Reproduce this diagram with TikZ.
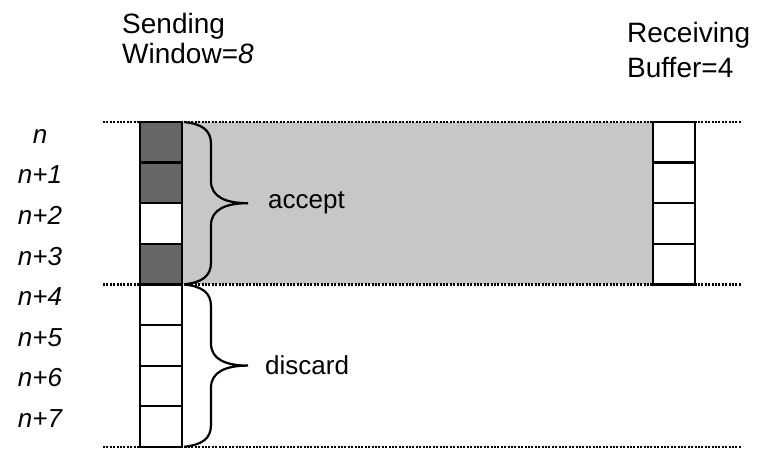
\documentclass[tikz,border=0pt]{standalone}
\usepackage{fontspec}
\setmainfont{Liberation Sans}
\usetikzlibrary{positioning, calc, backgrounds}

\tikzset{
  curly/.pic={
    \draw[brc] (2,0) .. controls (20,2) and (29,8) .. (29,22)
      -- (29,59.2) .. controls (29,75) and (44,81.2) .. (66,81.2)
      .. controls (44,81.2) and (29,87.4) .. (29,103.2)
      -- (29,140.4) .. controls (29,154.4) and (20,160.4) .. (2,162.4);
    \coordinate (-tip) at (66,81.2);
  }
}

\begin{document}
\begin{tikzpicture}[x=1pt, y=-1pt,
  cell/.style={draw, line width=2.2pt, minimum width=42pt, minimum height=40.6pt,
               inner sep=0pt, outer sep=0pt},
  dark/.style={cell, fill=black!60},
  seq/.style={font=\fontsize{26}{30}\selectfont\itshape, anchor=base},
  head/.style={font=\fontsize{28}{30}\selectfont, align=left, anchor=north west,
               inner sep=0pt},
  lbl/.style={font=\fontsize{26}{30}\selectfont, inner sep=0pt},
  rule/.style={line width=2.6pt, dash pattern=on 2pt off 1.4pt},
  brc/.style={line width=2.2pt},
]
\useasboundingbox (0,0) rectangle (757,454);

% ---- Headings --------------------------------------------------------------
\node[head] (send) at (122,13) {Sending\\Window=\textit{8}};
\node[head, text depth=0pt] (recv) at (627,22) {Receiving\\[5pt]Buffer=4};

% ---- Dotted rules ----------------------------------------------------------
\foreach \y in {122, 284.4, 446.8}
  \draw[rule] (103,\y) -- (742,\y);

% ---- Sending window --------------------------------------------------------
\foreach \i/\f/\t in {0/dark/n, 1/dark/n+1, 2/cell/n+2, 3/dark/n+3,
                      4/cell/n+4, 5/cell/n+5, 6/cell/n+6, 7/cell/n+7} {
  \node[\f] (s\i) at (161, 142.3+40.6*\i) {};
  \node[seq] (n\i) at (40, 143.3+40.6*\i) {\t};
}

% ---- Receiving buffer ------------------------------------------------------
\foreach \i in {0,...,3}
  \node[cell] (r\i) at (674, 142.3+40.6*\i) {};

% ---- Accepted band ---------------------------------------------------------
\begin{scope}[on background layer]
  \fill[black!22] (s0.north east) rectangle (r3.south west);
\end{scope}

% ---- Braces ----------------------------------------------------------------
\pic (acc) at (s0.north east) {curly};
\node[lbl, right=20pt of acc-tip] (acctxt) {accept};
\pic (dis) at (s4.north east) {curly};
\node[lbl, right=17pt of dis-tip] (distxt) {discard};

\end{tikzpicture}
\end{document}
